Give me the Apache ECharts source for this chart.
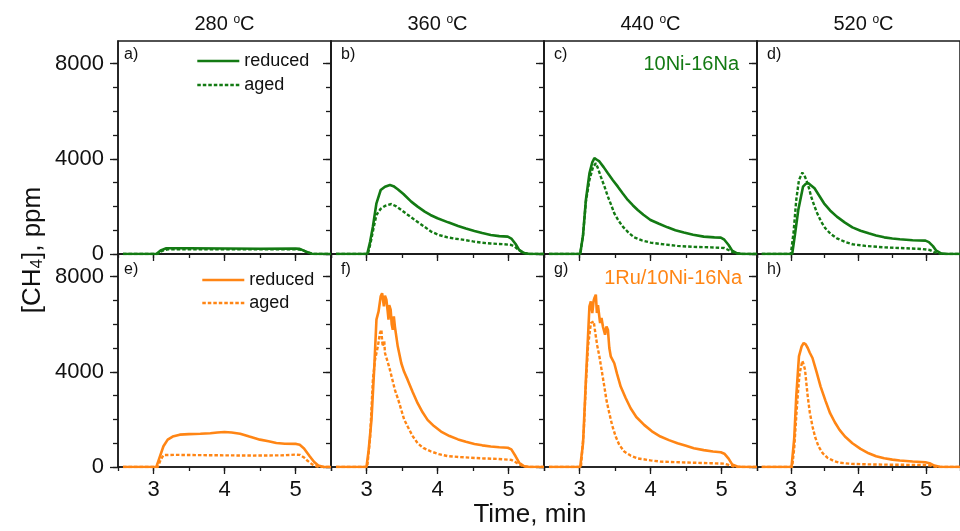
<!DOCTYPE html>
<html>
<head>
<meta charset="utf-8">
<script src="https://cdn.jsdelivr.net/npm/echarts@6/dist/echarts.min.js"></script>
<style>html,body{margin:0;padding:0;background:#fff}#c{width:960px;height:531px}</style>
</head>
<body>
<div id="c"></div>
<script>
// ---- data (time in min, [CH4] in ppm) ----
const columnTitles = ['280', '360', '440', '520'];
const panelLetters = ['a)', 'b)', 'c)', 'd)', 'e)', 'f)', 'g)', 'h)'];
const xTickValues = [2.5, 3, 3.5, 4, 4.5, 5, 5.5];
const xMajorValues = [3, 4, 5];
const yTickValues = [0, 1000, 2000, 3000, 4000, 5000, 6000, 7000, 8000];
const yMajorValues = [0, 4000, 8000];

const a_red = [[2.57,0],[3.04,0],[3.1,150],[3.18,240],[3.5,240],[4,230],[4.5,220],[5.0,225],[5.06,215],[5.15,100],[5.23,10],[5.3,0],[5.5,0]];
const a_aged = [[2.57,0],[3.06,0],[3.12,130],[3.2,200],[4,195],[5.0,200],[5.08,180],[5.18,60],[5.26,0],[5.5,0]];

const b_red = [[2.57,0],[3.01,0],[3.05,500],[3.09,1150],[3.14,2130],[3.2,2690],[3.26,2830],[3.33,2900],[3.38,2850],[3.44,2720],[3.52,2520],[3.63,2200],[3.72,1990],[3.82,1780],[3.9,1640],[4.0,1500],[4.15,1330],[4.29,1180],[4.4,1070],[4.52,970],[4.63,880],[4.75,800],[4.87,750],[4.99,730],[5.04,650],[5.1,420],[5.15,170],[5.22,40],[5.3,0],[5.5,0]];
const b_aged = [[2.57,0],[3.02,0],[3.06,500],[3.1,1100],[3.14,1640],[3.2,1900],[3.26,2020],[3.35,2100],[3.42,2000],[3.49,1850],[3.58,1650],[3.68,1430],[3.8,1180],[3.91,940],[4.02,800],[4.14,700],[4.26,640],[4.38,590],[4.5,530],[4.61,480],[4.75,440],[4.94,410],[5.04,380],[5.09,300],[5.13,200],[5.2,60],[5.28,0],[5.5,0]];

const c_red = [[2.57,0],[3.01,0],[3.05,800],[3.09,2270],[3.14,3390],[3.18,3850],[3.21,4025],[3.25,3950],[3.28,3890],[3.34,3650],[3.4,3390],[3.47,3100],[3.54,2830],[3.61,2540],[3.68,2270],[3.75,2050],[3.82,1850],[3.9,1650],[4.0,1430],[4.12,1270],[4.24,1120],[4.35,1000],[4.47,900],[4.6,810],[4.75,730],[4.9,700],[4.99,690],[5.04,600],[5.1,380],[5.15,140],[5.22,30],[5.3,0],[5.5,0]];
const c_aged = [[2.57,0],[3.01,0],[3.05,800],[3.09,2200],[3.14,3110],[3.19,3650],[3.23,3815],[3.26,3600],[3.3,3250],[3.35,2850],[3.4,2410],[3.45,2030],[3.49,1710],[3.55,1400],[3.61,1150],[3.69,900],[3.77,700],[3.88,570],[4.0,480],[4.2,400],[4.38,340],[4.6,300],[4.85,280],[5.04,250],[5.09,180],[5.15,90],[5.22,20],[5.3,0],[5.5,0]];

const d_red = [[2.57,0],[3.02,0],[3.06,800],[3.11,1850],[3.18,2830],[3.22,2950],[3.26,2970],[3.3,2880],[3.35,2760],[3.42,2450],[3.49,2130],[3.58,1830],[3.68,1570],[3.8,1320],[3.91,1120],[4.03,980],[4.15,870],[4.26,780],[4.38,700],[4.5,650],[4.61,620],[4.8,580],[4.99,560],[5.04,500],[5.1,330],[5.15,140],[5.22,30],[5.3,0],[5.5,0]];
const d_aged = [[2.57,0],[3.0,0],[3.04,900],[3.08,2270],[3.12,3110],[3.17,3420],[3.2,3300],[3.23,3110],[3.27,2750],[3.3,2410],[3.35,2000],[3.39,1710],[3.45,1350],[3.51,1080],[3.59,840],[3.68,660],[3.8,510],[3.91,410],[4.1,340],[4.38,280],[4.7,240],[4.94,210],[5.05,170],[5.12,80],[5.18,20],[5.25,0],[5.5,0]];

const e_red = [[2.57,0],[3.04,0],[3.08,350],[3.14,870],[3.2,1150],[3.27,1280],[3.37,1360],[3.5,1380],[3.66,1400],[3.8,1420],[3.9,1450],[4.0,1470],[4.1,1450],[4.22,1400],[4.35,1280],[4.5,1150],[4.62,1080],[4.73,1010],[4.85,980],[5.01,970],[5.06,930],[5.12,780],[5.2,450],[5.26,220],[5.32,60],[5.4,0],[5.5,0]];
const e_aged = [[2.57,0],[3.06,0],[3.1,300],[3.14,500],[3.3,510],[3.6,500],[4.0,490],[4.4,480],[4.8,490],[5.0,520],[5.06,510],[5.12,400],[5.17,260],[5.24,100],[5.3,20],[5.36,0],[5.5,0]];

const f_red = [[2.57,0],[3.0,0],[3.03,700],[3.07,1980],[3.11,4220],[3.14,6190],[3.17,6540],[3.2,7170],[3.22,7300],[3.23,7380],[3.245,6750],[3.26,7200],[3.28,7030],[3.3,6500],[3.31,6190],[3.32,6800],[3.34,6610],[3.355,6000],[3.37,5770],[3.385,6330],[3.4,5900],[3.44,5070],[3.49,4360],[3.53,4000],[3.58,3660],[3.65,3150],[3.72,2680],[3.79,2300],[3.86,1980],[3.95,1720],[4.05,1490],[4.17,1300],[4.29,1160],[4.4,1060],[4.52,970],[4.63,910],[4.75,860],[4.87,830],[4.99,810],[5.04,740],[5.1,450],[5.15,180],[5.22,30],[5.3,0],[5.5,0]];
const f_aged = [[2.57,0],[3.01,0],[3.05,1200],[3.09,3660],[3.12,4500],[3.14,4790],[3.16,5070],[3.19,5630],[3.21,5770],[3.22,5300],[3.23,5070],[3.25,5300],[3.26,4790],[3.3,4400],[3.33,4080],[3.37,3600],[3.4,3240],[3.45,2800],[3.49,2400],[3.53,2000],[3.58,1700],[3.65,1300],[3.72,1000],[3.8,800],[3.91,650],[4.02,540],[4.14,460],[4.3,420],[4.47,390],[4.65,360],[4.85,340],[5.04,300],[5.09,220],[5.15,110],[5.22,20],[5.3,0],[5.5,0]];

const g_red = [[2.57,0],[3.01,0],[3.05,1000],[3.09,3660],[3.12,5500],[3.14,6750],[3.16,6960],[3.18,6470],[3.2,7000],[3.21,7100],[3.23,7240],[3.245,6470],[3.26,6800],[3.29,6050],[3.31,6260],[3.33,5900],[3.36,5560],[3.38,5900],[3.4,5770],[3.42,5000],[3.44,4650],[3.49,4360],[3.53,3900],[3.58,3380],[3.65,2900],[3.72,2470],[3.8,2100],[3.91,1770],[4.02,1500],[4.14,1280],[4.26,1130],[4.38,1000],[4.5,890],[4.61,790],[4.75,710],[4.88,650],[4.99,620],[5.04,560],[5.1,350],[5.15,110],[5.22,20],[5.3,0],[5.5,0]];
const g_aged = [[2.57,0],[3.02,0],[3.06,1500],[3.09,3500],[3.12,5070],[3.16,6050],[3.2,6120],[3.215,5800],[3.23,5490],[3.25,5100],[3.28,4650],[3.31,4100],[3.35,3380],[3.38,2800],[3.42,2260],[3.46,1750],[3.51,1280],[3.56,930],[3.63,650],[3.72,480],[3.82,360],[4.0,280],[4.14,225],[4.4,200],[4.61,180],[4.85,160],[5.04,140],[5.1,90],[5.16,30],[5.22,0],[5.5,0]];

const h_red = [[2.57,0],[3.01,0],[3.05,1200],[3.08,2960],[3.12,4650],[3.16,5070],[3.19,5210],[3.22,5150],[3.25,5000],[3.28,4800],[3.32,4580],[3.38,4000],[3.44,3380],[3.51,2800],[3.58,2260],[3.65,1880],[3.72,1560],[3.8,1280],[3.91,1000],[4.03,760],[4.15,575],[4.26,450],[4.38,365],[4.5,310],[4.61,270],[4.8,230],[4.99,200],[5.05,160],[5.12,60],[5.2,10],[5.28,0],[5.5,0]];
const h_aged = [[2.57,0],[3.02,0],[3.05,800],[3.08,2120],[3.11,3300],[3.13,3940],[3.17,4460],[3.19,4300],[3.21,4080],[3.23,3500],[3.25,2960],[3.28,2300],[3.32,1700],[3.36,1250],[3.41,860],[3.47,580],[3.54,390],[3.63,260],[3.72,180],[3.9,130],[4.15,110],[4.5,95],[4.99,85],[5.05,70],[5.12,20],[5.18,0],[5.5,0]];

const reducedSets = [a_red, b_red, c_red, d_red, e_red, f_red, g_red, h_red];
const agedSets = [a_aged, b_aged, c_aged, d_aged, e_aged, f_aged, g_aged, h_aged];

// ---- style / layout ----
const FONT = "'Liberation Sans', Arial, Helvetica, sans-serif";
const GREEN = '#137a13';
const ORANGE = '#ff8514';
const AX = '#1a1a1a';
const L0 = 118, T0 = 41, W = 213, H = 213;
const plain = v => String(v);

const grids = [], xAxes = [], yAxes = [], series = [], graphics = [];
for (let i = 0; i < 8; i++) {
  const row = Math.floor(i / 4), col = i % 4;
  grids.push({left: L0 + col * W, top: T0 + row * H, width: W, height: H,
    show: true, borderColor: AX, borderWidth: 1.5, backgroundColor: 'transparent'});
}
for (let i = 0; i < 8; i++) {
  const row = Math.floor(i / 4), col = i % 4;
  xAxes.push({type: 'value', gridIndex: i, min: 2.5, max: 5.5, position: 'bottom',
    axisLine: {show: true, onZero: false, lineStyle: {color: AX, width: 1.5}},
    axisTick: {show: true, customValues: xTickValues, length: 4, lineStyle: {color: AX, width: 1.3}},
    axisLabel: {show: row === 1, customValues: xMajorValues, formatter: plain, margin: 12, fontSize: 22, color: '#111', fontFamily: FONT},
    splitLine: {show: false}});
  yAxes.push({type: 'value', gridIndex: i, min: 0, max: 8950, position: 'left',
    axisLine: {show: true, onZero: false, lineStyle: {color: AX, width: 1.5}},
    axisTick: {show: true, customValues: yTickValues, length: 5, lineStyle: {color: AX, width: 1.3}},
    axisLabel: {show: col === 0, customValues: yMajorValues, formatter: plain, margin: 14, fontSize: 22, color: '#111', fontFamily: FONT},
    splitLine: {show: false}});
}
for (let i = 0; i < 8; i++) {
  xAxes.push({type: 'value', gridIndex: i, min: 2.5, max: 5.5, position: 'bottom',
    axisLine: {show: false}, axisLabel: {show: false}, splitLine: {show: false},
    axisTick: {show: true, customValues: xMajorValues, length: 7, lineStyle: {color: AX, width: 1.3}}});
  yAxes.push({type: 'value', gridIndex: i, min: 0, max: 8950, position: 'left',
    axisLine: {show: false}, axisLabel: {show: false}, splitLine: {show: false},
    axisTick: {show: true, customValues: yMajorValues, length: 8, lineStyle: {color: AX, width: 1.3}}});
}
for (let i = 0; i < 8; i++) {
  const row = Math.floor(i / 4);
  const color = row === 0 ? GREEN : ORANGE;
  const sfx = row === 0 ? '' : ' ';
  series.push({type: 'line', name: 'reduced' + sfx, xAxisIndex: i, yAxisIndex: i,
    data: reducedSets[i], symbol: 'none', color: color, z: 4,
    lineStyle: {color: color, width: 2.6}, animation: false});
  series.push({type: 'line', name: 'aged' + sfx, xAxisIndex: i, yAxisIndex: i,
    data: agedSets[i], symbol: 'none', color: color, z: 3,
    lineStyle: {color: color, width: 2.4, type: [3.5, 2]}, animation: false});
}

// column titles
columnTitles.forEach((t, col) => {
  graphics.push({type: 'text', x: L0 + col * W + W / 2, y: 24,
    style: {text: t + ' {s|o}C', fill: '#111', fontSize: 20, fontFamily: FONT,
      align: 'center', verticalAlign: 'middle', textAlign: 'center', textVerticalAlign: 'middle',
      rich: {s: {fontSize: 12, fontFamily: FONT, fill: '#111', verticalAlign: 'top', lineHeight: 12}}}});
});
// panel letters
panelLetters.forEach((t, i) => {
  const row = Math.floor(i / 4), col = i % 4;
  graphics.push({type: 'text', x: L0 + col * W + (col === 0 ? 6 : 10), y: T0 + row * H + 14 + row * 2,
    style: {text: t, fill: '#111', fontSize: 16, fontFamily: FONT,
      align: 'left', verticalAlign: 'middle', textAlign: 'left', textVerticalAlign: 'middle'}});
});
// sample labels
graphics.push({type: 'text', x: 739, y: 64,
  style: {text: '10Ni-16Na', fill: GREEN, fontSize: 20, fontFamily: FONT,
    align: 'right', verticalAlign: 'middle', textAlign: 'right', textVerticalAlign: 'middle'}});
graphics.push({type: 'text', x: 742, y: 278,
  style: {text: '1Ru/10Ni-16Na', fill: ORANGE, fontSize: 20, fontFamily: FONT,
    align: 'right', verticalAlign: 'middle', textAlign: 'right', textVerticalAlign: 'middle'}});
// axis titles
graphics.push({type: 'text', x: 530, y: 515,
  style: {text: 'Time, min', fill: '#111', fontSize: 26, fontFamily: FONT,
    align: 'center', verticalAlign: 'middle', textAlign: 'center', textVerticalAlign: 'middle'}});
graphics.push({type: 'text', x: 33, y: 250, rotation: Math.PI / 2,
  style: {text: '[CH{b|4}], ppm', fill: '#111', fontSize: 26, fontFamily: FONT,
    align: 'center', verticalAlign: 'middle', textAlign: 'center', textVerticalAlign: 'middle',
    rich: {b: {fontSize: 17, fontFamily: FONT, fill: '#111', verticalAlign: 'bottom', lineHeight: 17}}}});

const legendCommon = {orient: 'vertical', selectedMode: false, itemWidth: 42, itemHeight: 18,
  itemGap: 6, padding: 0, itemStyle: {opacity: 0}, lineStyle: {width: 2.6},
  textStyle: {fontSize: 18, color: '#111', fontFamily: FONT}};

const chart = echarts.init(document.getElementById('c'), null, {renderer: 'canvas'});
chart.setOption({
  animation: false,
  backgroundColor: '#fff',
  grid: grids,
  xAxis: xAxes,
  yAxis: yAxes,
  legend: [
    Object.assign({}, legendCommon, {left: 196, top: 52, data: ['reduced', 'aged']}),
    Object.assign({}, legendCommon, {left: 201, top: 271, itemGap: 5, data: ['reduced ', 'aged ']})
  ],
  series: series,
  graphic: graphics
});
</script>
</body>
</html>
